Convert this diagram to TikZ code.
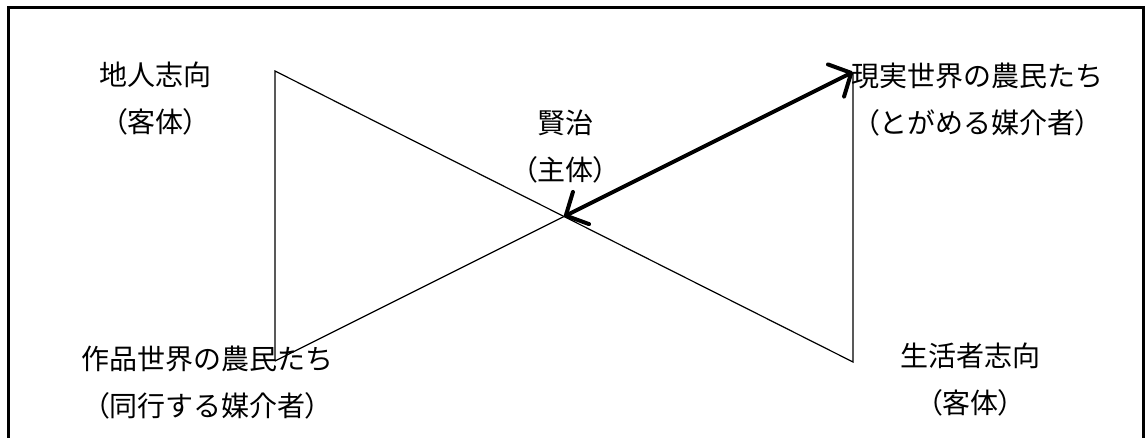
\documentclass[tikz,border=0pt]{standalone}
\usepackage{fontspec}
\newfontfamily\jpfont{Noto Sans CJK JP}
\newfontfamily\jpparen{Noto Sans CJK JP}[RawFeature=+palt]
\newcommand{\kakko}[1]{{\jpparen （}#1{\jpparen ）}}
\usepackage{tikz}
\usetikzlibrary{calc, arrows.meta}

\begin{document}
\begin{tikzpicture}[x=1pt, y=-1pt,
    lbl/.style={align=center, inner sep=0pt,
                font=\jpfont\fontsize{28}{47}\selectfont},
    edge/.style={line width=1.2pt},
    bothway/.style={line width=4pt, line cap=round,
        {Straight Barb[length=17pt, width=36pt, line cap=round, line join=round]}-%
        {Straight Barb[length=17pt, width=36pt, line cap=round, line join=round]}}]
    \useasboundingbox (0,0) rectangle (1147,437);
    \clip (0,0) rectangle (1147,437);
    \draw[line width=3pt] (8,7) rectangle (1143,480);

    % corners of the bow tie
    \coordinate (tl) at (275,71);
    \coordinate (bl) at (275,361);
    \coordinate (tr) at (853,72);
    \coordinate (br) at (853,362);
    \coordinate (mid) at ($(tl)!0.5!(br)$);

    \draw[edge] (bl) -- (tl) -- (br) -- (tr);
    \draw[edge] (bl) -- (mid);
    \draw[bothway] (mid) -- (tr);

    % labels
    \node[lbl] (jinin)    at (155,99)  {地人志向\\\kakko{客体}};
    \node[lbl] (kenji)    at (565,147) {賢治\\\kakko{主体}};
    \node[lbl] (genjitsu) at (977,100) {現実世界の農民たち\\\kakko{とがめる媒介者}};
    \node[lbl] (sakuhin)  at (207,383) {作品世界の農民たち\\\kakko{同行する媒介者}};
    \node[lbl] (seikatsu) at (970,380) {生活者志向\\\kakko{客体}};
\end{tikzpicture}
\end{document}
